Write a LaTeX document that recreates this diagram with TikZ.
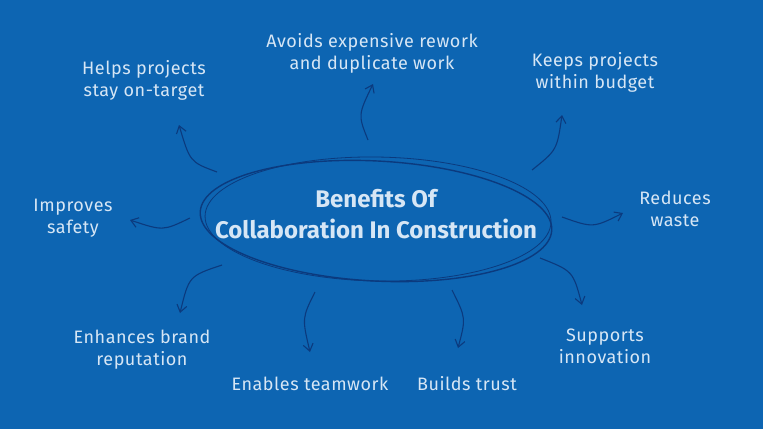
\documentclass[tikz,border=0pt]{standalone}
\usepackage{fontspec}
\setmainfont{Fira Sans}
\newfontfamily\widefira[LetterSpace=3]{Fira Sans}
\usepackage{tikz}
\usetikzlibrary{arrows.meta}
\usepackage{xcolor}
\definecolor{fback}{HTML}{0D65B2}
\definecolor{ftext}{HTML}{D6E6F5}
\definecolor{fink}{HTML}{0B3A7E}
\tikzset{
  benefit/.style={text=ftext,align=center,font=\widefira\fontsize{18}{22}\selectfont},
  sketch/.style={fink,line width=1.1pt,-{Straight Barb[length=7pt,width=10pt]}}
}

\begin{document}
\begin{tikzpicture}[x=1pt,y=-1pt]
\fill[fback] (0,0) rectangle (763,429);
% the hand drawn oval, two strokes slightly apart
\draw[fink,line width=1.4pt,rotate around={-3:(376,221)}] (376,221) ellipse [x radius=176,y radius=60];
\draw[fink,line width=0.8pt,rotate around={-1:(376,221)}] (378,219) ellipse [x radius=173,y radius=62];
\node[text=ftext,font=\bfseries\fontsize{24}{31}\selectfont,align=center] (title) at (376,214)
  {Benefits Of\\Collaboration In Construction};
% the nine benefits round it
\node[benefit] (rework) at (372,53) {Avoids expensive rework\\and duplicate work};
\node[benefit] (target) at (144,80) {Helps projects\\stay on-target};
\node[benefit] (budget) at (595,72) {Keeps projects\\within budget};
\node[benefit] (safety) at (73,218) {Improves\\safety};
\node[benefit] (waste) at (675,209) {Reduces\\waste};
\node[benefit] (brand) at (142,350) {Enhances brand\\reputation};
\node[benefit] (teamwork) at (310,384) {Enables teamwork};
\node[benefit] (trust) at (467,384) {Builds trust};
\node[benefit] (innov) at (605,346) {Supports\\innovation};
% arrow ends: tails on the oval, heads short of the labels
\coordinate (t-rework) at (368,140);   \coordinate (h-rework) at (373,84);
\coordinate (t-target) at (217,172);   \coordinate (h-target) at (179,125);
\coordinate (t-budget) at (532,170);   \coordinate (h-budget) at (562,115);
\coordinate (t-safety) at (190,218);   \coordinate (h-safety) at (130,220);
\coordinate (t-waste) at (562,217);    \coordinate (h-waste) at (623,213);
\coordinate (t-brand) at (222,265);    \coordinate (h-brand) at (180,313);
\coordinate (t-team) at (315,292);     \coordinate (h-team) at (310,352);
\coordinate (t-trust) at (452,290);    \coordinate (h-trust) at (458,348);
\coordinate (t-innov) at (540,258);    \coordinate (h-innov) at (582,305);
\draw[sketch] (t-rework) .. controls (358,115) .. (h-rework);
\draw[sketch] (t-target) .. controls (190,162) .. (h-target);
\draw[sketch] (t-budget) .. controls (557,150) .. (h-budget);
\draw[sketch] (t-safety) .. controls (163,231) .. (h-safety);
\draw[sketch] (t-waste) .. controls (593,228) .. (h-waste);
\draw[sketch] (t-brand) .. controls (189,276) .. (h-brand);
\draw[sketch] (t-team) .. controls (302,318) .. (h-team);
\draw[sketch] (t-trust) .. controls (466,318) .. (h-trust);
\draw[sketch] (t-innov) .. controls (573,271) .. (h-innov);
\end{tikzpicture}
\end{document}
